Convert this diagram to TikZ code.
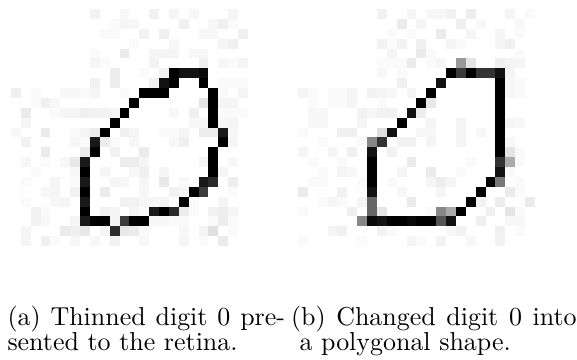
\documentclass[tikz,border=0pt]{standalone}
\begin{document}
\begin{tikzpicture}[x=0.397pt,y=-0.397pt,
  captext/.style={anchor=base west,inner sep=0pt,font=\fontsize{10.3pt}{12pt}\selectfont}]
\useasboundingbox (0,0) rectangle (577,360);
\def\cs{9.875}
% ---------- left image ----------
\begin{scope}[shift={(11,9)}]
\foreach \c/\r/\g in {
8/0/5,11/0/3,10/1/2,11/1/4,9/2/2,10/2/2,8/4/2,11/4/8,8/5/4,9/5/2,10/6/7,10/7/7,8/7/5,
0/8/6,2/8/2,5/8/3,6/8/3,7/8/2,8/8/4,11/8/2,2/9/2,3/9/6,4/9/3,
1/10/8,4/10/2,5/10/4,6/10/4,7/10/6,8/10/5,9/10/5,10/10/4,1/11/4,
0/12/3,3/12/8,6/12/2,7/12/4,8/12/7,11/12/6,
1/13/5,6/13/3,7/13/2,9/13/7,10/13/2,3/14/8,7/14/7,10/14/5,
1/15/3,3/15/2,5/15/3,6/15/9,11/15/7,2/16/2,6/16/3,9/16/4,
1/17/2,4/17/4,6/17/2,10/17/4,11/17/3,3/18/3,4/18/4,6/18/5,9/18/8,
1/19/2,4/19/3,5/19/4,11/19/5,2/20/5,3/20/2,9/20/5,10/20/4,
2/21/5,3/21/3,6/21/4,10/21/4,1/22/4,5/22/8,6/22/6,7/22/9,9/22/4,11/22/9,
1/23/4,3/23/6,4/23/2,6/23/3,8/23/3,10/23/5,
14/0/5,16/0/4,18/0/3,22/0/4,12/1/3,17/1/6,20/1/3,21/1/6,22/1/2,
13/2/5,15/2/6,19/2/3,20/2/3,23/2/6,12/3/2,16/3/3,21/3/4,22/3/6,
14/4/4,15/4/4,16/4/4,18/4/3,19/4/3,14/5/5,19/5/6,21/5/4,22/5/2,23/5/4,
13/6/2,15/6/5,14/7/6,21/7/2,22/7/2,23/7/2,21/8/2,23/8/4,21/9/4,22/9/4,
16/10/3,18/10/6,21/10/2,22/10/2,23/10/2,18/11/3,19/11/3,21/11/3,22/11/4,
12/12/4,15/12/2,16/12/2,17/12/4,19/12/7,20/12/7,22/12/3,
12/13/3,16/13/3,17/13/6,22/13/4,13/14/8,12/15/7,13/15/4,19/15/4,22/15/3,
12/16/3,13/16/6,15/16/4,21/16/4,13/17/4,15/17/9,17/17/3,22/17/7,
13/18/3,16/18/5,17/18/4,22/18/2,12/19/5,13/19/3,14/19/4,15/19/4,18/19/2,21/19/4,
12/20/4,13/20/2,17/20/7,18/20/2,20/20/5,21/20/7,22/20/4,
14/21/3,15/21/3,16/21/2,17/21/2,20/21/2,21/21/7,22/21/2,
12/22/8,13/22/2,17/22/3,19/22/4,20/22/12,22/22/2,13/23/3,17/23/4,19/23/2,21/23/8,
16/6/100,17/6/93,18/6/93,19/6/96,15/7/93,16/7/100,19/7/100,
13/8/100,14/8/100,15/8/100,20/8/100,12/9/100,20/9/100,19/9/10,
11/10/100,20/10/100,10/11/100,20/11/100,9/12/100,21/12/90,8/13/90,21/13/100,
8/14/100,20/14/100,7/15/90,20/15/100,7/16/100,20/16/100,
7/17/90,19/17/90,20/17/83,7/18/100,18/18/100,19/18/77,7/19/90,17/19/100,
7/20/100,14/20/90,15/20/100,16/20/83,
7/21/90,8/21/100,9/21/100,11/21/77,12/21/100,13/21/100,10/22/83}
{\fill[black!\g] ({\c*\cs},{\r*\cs}) rectangle +(\cs,\cs);}
\end{scope}
% ---------- right image ----------
\begin{scope}[shift={(298,9)}]
\foreach \c/\r/\g in {
8/0/5,11/0/4,10/1/8,9/2/2,11/2/2,8/3/5,9/3/2,10/3/5,9/4/4,12/4/8,8/5/2,9/5/2,10/5/2,11/5/8,8/6/3,10/6/2,10/7/6,
0/8/4,1/8/2,3/8/2,4/8/2,5/8/4,7/8/5,8/8/4,9/8/3,11/8/4,1/9/2,3/9/2,4/9/2,5/9/4,8/9/2,
1/10/3,2/10/3,6/10/5,7/10/3,8/10/5,9/10/5,1/11/3,2/11/3,6/11/4,
13/0/3,14/0/3,15/0/5,17/0/7,21/0/4,23/0/2,12/1/4,16/1/6,18/1/3,22/1/3,
14/2/8,17/2/4,20/2/4,22/2/2,12/3/6,15/3/4,16/3/2,20/3/4,21/3/6,13/4/2,22/4/2,
13/5/2,14/5/4,20/5/6,21/5/4,22/5/4,21/6/4,21/7/3,22/7/2,21/8/3,22/8/2,
12/10/7,13/11/4,16/11/4,21/11/4,22/11/3,
0/12/2,4/12/6,5/12/6,2/13/2,6/13/2,10/13/5,11/13/5,0/14/4,3/14/4,5/14/6,9/14/5,
1/15/2,4/15/2,11/15/8,2/16/2,4/16/4,5/16/3,10/16/4,1/17/2,2/17/2,6/17/2,9/17/2,
0/18/8,4/18/5,10/18/3,2/19/2,3/19/4,4/19/2,6/19/4,11/19/8,0/20/2,5/20/6,
3/22/4,4/22/6,8/22/5,9/22/2,0/23/2,6/23/2,11/23/4,
12/12/3,13/12/3,16/12/4,18/12/3,13/13/4,16/13/4,21/13/3,22/14/2,17/15/2,22/15/2,
13/16/8,16/16/2,21/16/2,13/17/4,14/17/7,15/17/4,22/17/2,14/18/4,21/18/8,22/18/2,
18/19/5,20/19/7,23/19/8,13/20/2,19/20/6,21/20/10,22/20/2,18/21/6,21/21/3,22/21/3,
15/22/3,16/22/5,20/22/6,22/22/2,12/23/2,14/23/5,17/23/3,20/23/5,
16/5/40,17/5/10,
15/6/100,16/6/77,17/6/100,18/6/80,19/6/80,20/6/93,
14/7/93,20/7/100,13/8/100,20/8/100,12/9/100,20/9/100,13/9/9,
11/10/93,20/10/100,10/11/100,20/11/100,9/12/93,8/12/13,20/12/100,
7/13/47,8/13/80,20/13/100,7/14/93,20/14/100,21/14/10,
7/15/100,20/15/80,21/15/33,7/16/100,20/16/93,
7/17/100,19/17/100,20/17/53,7/18/93,18/18/100,7/19/60,17/19/100,
7/20/60,8/20/10,14/20/47,15/20/33,16/20/100,
6/21/47,7/21/96,8/21/93,9/21/100,10/21/100,11/21/96,12/21/100,13/21/100,14/21/67,15/21/93}
{\fill[black!\g] ({\c*\cs},{\r*\cs}) rectangle +(\cs,\cs);}
\end{scope}
% ---------- captions ----------
\node[captext] (capa1) at (7,325.5) {\makebox[110.2pt][s]{(a) Thinned digit 0 pre-}};
\node[captext] (capa2) at (7,350.5) {sented to the retina.};
\node[captext] (capb1) at (290.5,325.5) {\makebox[113.4pt][s]{(b) Changed digit 0 into}};
\node[captext] (capb2) at (299,350.5) {a polygonal shape.};
\end{tikzpicture}
\end{document}
